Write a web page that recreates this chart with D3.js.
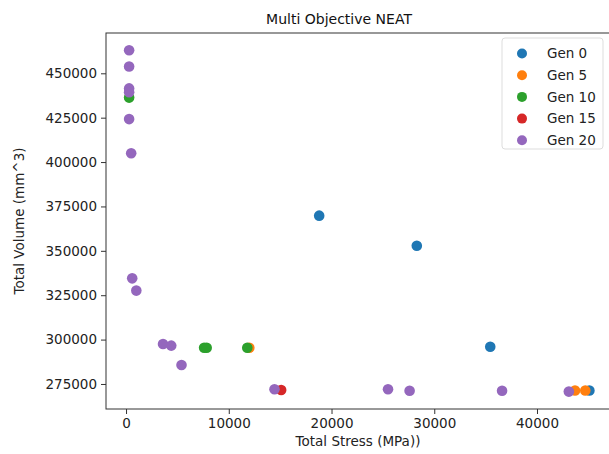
<!DOCTYPE html>
<html>
<head>
<meta charset="utf-8">
<script src="https://cdn.jsdelivr.net/npm/d3@7"></script>
<style>
  body { margin: 0; background: #fff; }
  svg { font-family: "DejaVu Sans", sans-serif; }
</style>
</head>
<body>
<div id="wrapper"></div>
<script>
// series: [total stress (MPa), total volume (mm^3)]
const seriesNames = ["Gen 0", "Gen 5", "Gen 10", "Gen 15", "Gen 20"]
const gen0 = [[18800, 369800], [28300, 352900], [35450, 296000], [45100, 271300]]
const gen5 = [[12000, 295400], [43700, 271300], [44700, 271300]]
const gen10 = [[300, 436300], [7600, 295400], [7850, 295400], [11800, 295400]]
const gen15 = [[15100, 271600]]
const gen20 = [[300, 463000], [300, 453800], [300, 441500], [300, 439300], [300, 424200],
               [500, 405000], [600, 334500], [1000, 327600], [3600, 297500], [4400, 296600],
               [5400, 285700], [14450, 272000], [25500, 272000], [27600, 271200],
               [36600, 271200], [43100, 270700]]
const xTicks = [0, 10000, 20000, 30000, 40000]
const yTicks = [275000, 300000, 325000, 350000, 375000, 400000, 425000, 450000]

const allSeries = [gen0, gen5, gen10, gen15, gen20]
const colors = ["#1f77b4", "#ff7f0e", "#2ca02c", "#d62728", "#9467bd"]

let dimensions = {
    width: 609,
    height: 454,
    margin: { top: 33, right: -3, bottom: 45, left: 106 },
}
dimensions.boundedWidth = dimensions.width - dimensions.margin.left - dimensions.margin.right
dimensions.boundedHeight = dimensions.height - dimensions.margin.top - dimensions.margin.bottom

const wrapper = d3.select("#wrapper")
    .append("svg")
        .attr("width", dimensions.width)
        .attr("height", dimensions.height)

const bounds = wrapper.append("g")
    .attr("transform", `translate(${dimensions.margin.left},${dimensions.margin.top})`)

const xScale = d3.scaleLinear()
    .domain([-1950, 47300])
    .range([0, dimensions.boundedWidth])
const yScale = d3.scaleLinear()
    .domain([260900, 472700])
    .range([dimensions.boundedHeight, 0])

// frame
bounds.append("rect")
    .attr("width", dimensions.boundedWidth)
    .attr("height", dimensions.boundedHeight)
    .attr("fill", "none")
    .attr("stroke", "#333")
    .attr("stroke-width", 1)

// points
allSeries.forEach((pts, i) => {
    bounds.append("g").selectAll("circle")
        .data(pts)
        .join("circle")
            .attr("cx", d => xScale(d[0]))
            .attr("cy", d => yScale(d[1]))
            .attr("r", 5.3)
            .attr("fill", colors[i])
})

// axes
const xAxis = bounds.append("g")
    .attr("transform", `translate(0,${dimensions.boundedHeight})`)
    .call(d3.axisBottom(xScale).tickValues(xTicks).tickFormat(d3.format("d")).tickSize(5).tickPadding(4))
const yAxis = bounds.append("g")
    .call(d3.axisLeft(yScale).tickValues(yTicks).tickFormat(d3.format("d")).tickSize(5).tickPadding(4))
;[xAxis, yAxis].forEach(a => {
    a.select(".domain").remove()
    a.selectAll("line").attr("stroke", "#333")
    a.selectAll("text").attr("fill", "#222").style("font-size", "13.5px").style("font-family", "DejaVu Sans")
})

// title and labels
wrapper.append("text")
    .attr("x", dimensions.margin.left + 233)
    .attr("y", 24)
    .attr("text-anchor", "middle")
    .style("font-size", "14px")
    .attr("fill", "#111")
    .text("Multi Objective NEAT")
wrapper.append("text")
    .attr("x", 358)
    .attr("y", 446)
    .attr("text-anchor", "middle")
    .style("font-size", "13.5px")
    .attr("fill", "#222")
    .text("Total Stress (MPa))")
wrapper.append("text")
    .attr("transform", `translate(24,${dimensions.margin.top + dimensions.boundedHeight / 2}) rotate(-90)`)
    .attr("text-anchor", "middle")
    .style("font-size", "13.5px")
    .attr("fill", "#222")
    .text("Total Volume (mm^3)")

// legend
const legend = wrapper.append("g").attr("transform", "translate(502,38)")
legend.append("rect")
    .attr("width", 101)
    .attr("height", 111)
    .attr("rx", 3)
    .attr("fill", "#fff")
    .attr("stroke", "#ddd")
seriesNames.forEach((name, i) => {
    const row = legend.append("g").attr("transform", `translate(0,${15.5 + i * 21.7})`)
    row.append("circle").attr("cx", 20).attr("cy", 0).attr("r", 5).attr("fill", colors[i])
    row.append("text")
        .attr("x", 45)
        .attr("y", 0)
        .attr("dy", "0.35em")
        .style("font-size", "13.5px")
        .attr("fill", "#222")
        .text(name)
})
</script>
</body>
</html>
